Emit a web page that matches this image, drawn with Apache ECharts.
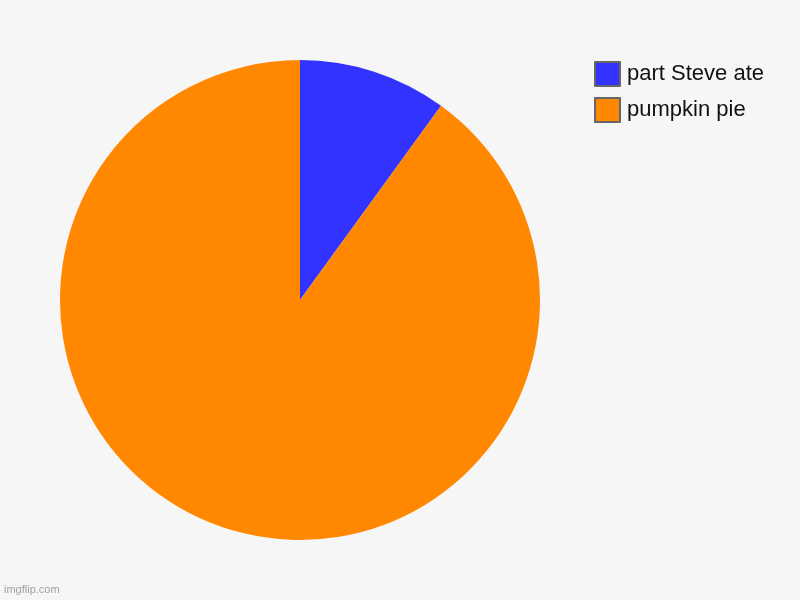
<!DOCTYPE html>
<html>
<head>
<meta charset="utf-8">
<script src="https://cdn.jsdelivr.net/npm/echarts@6/dist/echarts.min.js"></script>
<style>
html, body { margin: 0; padding: 0; background: #f6f6f6; }
#chart { width: 800px; height: 600px; }
</style>
</head>
<body>
<div id="chart"></div>
<script>
// slice names and values (about 10% / 90%)
var sliceNames = ['part Steve ate', 'pumpkin pie'];
var sliceValues = [10, 90];
var sliceColors = ['#3333ff', '#ff8800'];

var chart = echarts.init(document.getElementById('chart'));

var pieData = [];
for (var i = 0; i < sliceNames.length; i++) {
    pieData.push({
        name: sliceNames[i],
        value: sliceValues[i],
        itemStyle: { color: sliceColors[i] }
    });
}

chart.setOption({
    backgroundColor: '#f6f6f6',
    animation: false,
    graphic: [{
        type: 'text',
        left: 4,
        top: 584,
        style: { text: 'imgflip.com', fill: '#a0a0a0', font: '11px "Liberation Sans", Arial, sans-serif' }
    }],
    legend: {
        orient: 'vertical',
        left: 594,
        top: 61,
        padding: 0,
        itemWidth: 25,
        itemHeight: 24,
        itemGap: 10,
        icon: 'rect',
        itemStyle: { borderColor: '#666', borderWidth: 2 },
        textStyle: {
            fontSize: 22,
            color: '#111',
            fontFamily: '"Liberation Sans", Arial, sans-serif',
            padding: [0, 0, 0, 2]
        },
        data: sliceNames
    },
    series: [{
        type: 'pie',
        center: [300, 300],
        radius: 240,
        startAngle: 90,
        clockwise: true,
        label: { show: false },
        labelLine: { show: false },
        emphasis: { disabled: true },
        data: pieData
    }]
});
</script>
</body>
</html>
